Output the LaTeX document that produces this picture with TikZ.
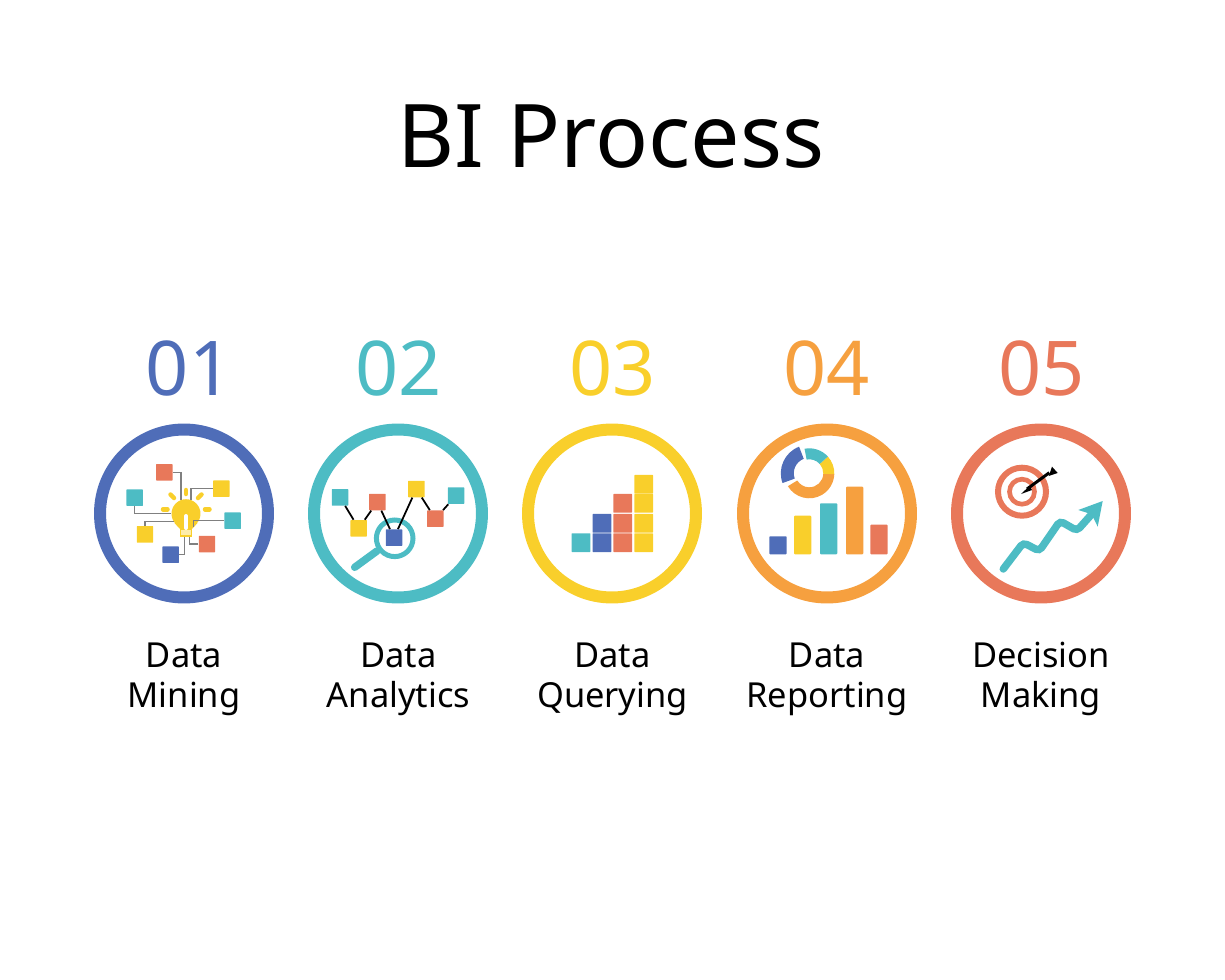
\documentclass[tikz,border=0pt]{standalone}
\usepackage{fontspec}
\setmainfont{Noto Sans}
\definecolor{biblue}{HTML}{4F6DB8}
\definecolor{biteal}{HTML}{4DBCC4}
\definecolor{biyellow}{HTML}{F9CF2B}
\definecolor{biorange}{HTML}{F6A03F}
\definecolor{bired}{HTML}{E8785A}
\tikzset{
	ring/.style={circle,line width=0.24cm,minimum size=3.36cm,inner sep=0},
	num/.style={anchor=base,font=\fontsize{43}{43}\selectfont},
	lab/.style={align=center,font=\fontsize{19.6}{22.75}\selectfont},
	sq/.style={minimum size=0.33cm,inner sep=0,rounded corners=0.3pt},
	cell/.style={minimum size=0.375cm,inner sep=0,rounded corners=0.3pt},
	wire/.style={draw=black!50,line width=0.8pt},
	link/.style={draw=black,line width=1pt},
	ray/.style={draw=biyellow,line width=0.09cm,line cap=round},
	bar/.style={rounded corners=0.5pt}
}
\begin{document}
\begin{tikzpicture}[x=0.02cm,y=-0.02cm]
		\useasboundingbox (0,0) rectangle (1225,980);
		\node[anchor=base,font=\fontsize{50}{50}\selectfont] (title) at (611,168) {BI Process};

		\node[num,text=biblue] (numa) at (189,395) {01};
		\node[num,text=biteal] (numb) at (398.5,395) {02};
		\node[num,text=biyellow] (numc) at (612.5,395) {03};
		\node[num,text=biorange] (numd) at (826.5,395) {04};
		\node[num,text=bired] (nume) at (1041.5,395) {05};

		\node[ring,draw=biblue] (ringa) at (184,513.5) {};
		\node[ring,draw=biteal] (ringb) at (398,513.5) {};
		\node[ring,draw=biyellow] (ringc) at (612,513.5) {};
		\node[ring,draw=biorange] (ringd) at (827,513.5) {};
		\node[ring,draw=bired] (ringe) at (1041,513.5) {};

		\node[lab] (laba) at (184,679) {Data\\Mining};
		\node[lab] (labb) at (398.5,679) {Data\\Analytics};
		\node[lab] (labc) at (612.5,679) {Data\\Querying};
		\node[lab] (labd) at (827,679) {Data\\Reporting};
		\node[lab] (labe) at (1041,679) {Decision\\Making};

		% mining
		\node[circle,fill=biyellow,minimum size=0.58cm,inner sep=0] (bulb) at (186,513.7) {};
		\node[fill=biyellow!40,draw=biyellow,line width=0.7pt,minimum width=0.22cm,minimum height=0.13cm,inner sep=0] (base) at (186,532.7) {};
		\fill[biyellow] (bulb.-40) -- (base.north east) -- (base.north west) -- (bulb.-140) -- cycle;
		\draw[white,line width=0.08cm,line cap=round] (186,516) -- (186,528);
		\draw[ray] (186,490) -- (186,494);
		\draw[ray] (170.5,494.5) -- (174,498);
		\draw[ray] (201.5,494.5) -- (198,498);
		\draw[ray] (163,509.3) -- (167.5,509.3);
		\draw[ray] (205,509.3) -- (209.5,509.3);
		\node[sq,fill=bired] (mina) at (164.3,472.3) {};
		\node[sq,fill=biyellow] (minb) at (221.3,488.7) {};
		\node[sq,fill=biteal] (minc) at (134.7,497.7) {};
		\node[sq,fill=biteal] (mind) at (232.7,520.7) {};
		\node[sq,fill=biyellow] (mine) at (145,534.3) {};
		\node[sq,fill=bired] (minf) at (207,544) {};
		\node[sq,fill=biblue] (ming) at (170.7,554.7) {};
		\draw[wire] (mina.east) -| (bulb.110);
		\draw[wire] (minb.west) -| (bulb.70);
		\draw[wire] (minc.south) |- (bulb.180);
		\draw[wire] (mine.north) |- (bulb.213);
		\draw[wire] (mind.west) -| (bulb.-60);
		\draw[wire] (minf.west) -| ([xshift=0.07cm]base.south);
		\draw[wire] (ming.east) -| ([xshift=-0.03cm]base.south);

		% analytics
		\draw[biteal,line width=0.1cm] (394.7,538.3) circle (18.3);
		\draw[biteal,line width=0.15cm,line cap=round] (377,551) -- (354.7,567.3);
		\node[sq,fill=biteal] (anaa) at (340,497.3) {};
		\node[sq,fill=bired] (anab) at (377.3,502) {};
		\node[sq,fill=biyellow] (anac) at (358.7,528.3) {};
		\node[sq,fill=biblue] (anad) at (394,537.7) {};
		\node[sq,fill=biyellow] (anae) at (416.3,489) {};
		\node[sq,fill=bired] (anaf) at (435.3,518.7) {};
		\node[sq,fill=biteal] (anag) at (456,495.7) {};
		\draw[link] (anaa) -- (anac);
		\draw[link] (anac) -- (anab);
		\draw[link] (anab) -- (anad);
		\draw[link] (anad) -- (anae);
		\draw[link] (anae) -- (anaf);
		\draw[link] (anaf) -- (anag);

		% querying
		\node[cell,fill=biteal] (quea) at (581,542.7) {};
		\node[cell,fill=biblue] (queb) at (602,542.7) {};
		\node[cell,fill=biblue] (quec) at (602,523.3) {};
		\node[cell,fill=bired] (qued) at (622.7,542.7) {};
		\node[cell,fill=bired] (quee) at (622.7,523.3) {};
		\node[cell,fill=bired] (quef) at (622.7,503.3) {};
		\node[cell,fill=biyellow] (queg) at (643.7,542.7) {};
		\node[cell,fill=biyellow] (queh) at (643.7,523.3) {};
		\node[cell,fill=biyellow] (quei) at (643.7,503.3) {};
		\node[cell,fill=biyellow] (quej) at (643.7,484.3) {};

		% reporting
		\fill[bar,biblue] (769.3,554.3) rectangle (786.7,536.3);
		\fill[bar,biyellow] (794,554.3) rectangle (811.3,515.7);
		\fill[bar,biteal] (820,554.3) rectangle (837.3,503.3);
		\fill[bar,biorange] (846,554.3) rectangle (863.3,486.7);
		\fill[bar,bired] (870.3,554.3) rectangle (887.7,524.7);
		\begin{scope}[shift={(809.3,473.3)},x=0.02cm,y=0.02cm]
			\def \ro {25}
			\def \ri {14}
			\fill[biorange] (-149:\ro) arc[start angle=-149,end angle=-2,radius=\ro] -- (-2:\ri) arc[start angle=-2,end angle=-149,radius=\ri] -- cycle;
			\fill[biyellow] (-2:\ro) arc[start angle=-2,end angle=42,radius=\ro] -- (42:\ri) arc[start angle=42,end angle=-2,radius=\ri] -- cycle;
			\fill[biteal] (42:\ro) arc[start angle=42,end angle=101,radius=\ro] -- (101:\ri) arc[start angle=101,end angle=42,radius=\ri] -- cycle;
			\fill[biblue] (111:28.5) arc[start angle=111,end angle=200,radius=28.5] -- (200:15.5) arc[start angle=200,end angle=111,radius=15.5] -- cycle;
		\end{scope}

		% decision
		\draw[bired,line width=0.12cm] (1022,491.7) circle (24);
		\draw[bired,line width=0.094cm] (1022,491.7) circle (12.5);
		\coordinate (tail) at (1049.3,472.7);
		\coordinate (tip) at (1021,494);
		\fill[black] (tip) -- (1029.5,486) -- (1032,490) -- cycle;
		\draw[black,line width=0.06cm] (tail) -- (1027,489);
		\fill[black] (1052,466.7) -- (1057.7,473) -- (1048.7,476) -- (1050.3,471.7) -- cycle;
		\draw[biteal,line width=0.15cm,line cap=round,rounded corners=0.08cm] (1003.3,569) -- (1023.3,542.7) -- (1039.3,551) -- (1060,521) -- (1077,530.7) -- (1091,515);
		\fill[biteal] (1102.7,501) -- (1078.3,510) -- (1091.7,514.3) -- (1097.7,526.7) -- cycle;
	\end{tikzpicture}
\end{document}
